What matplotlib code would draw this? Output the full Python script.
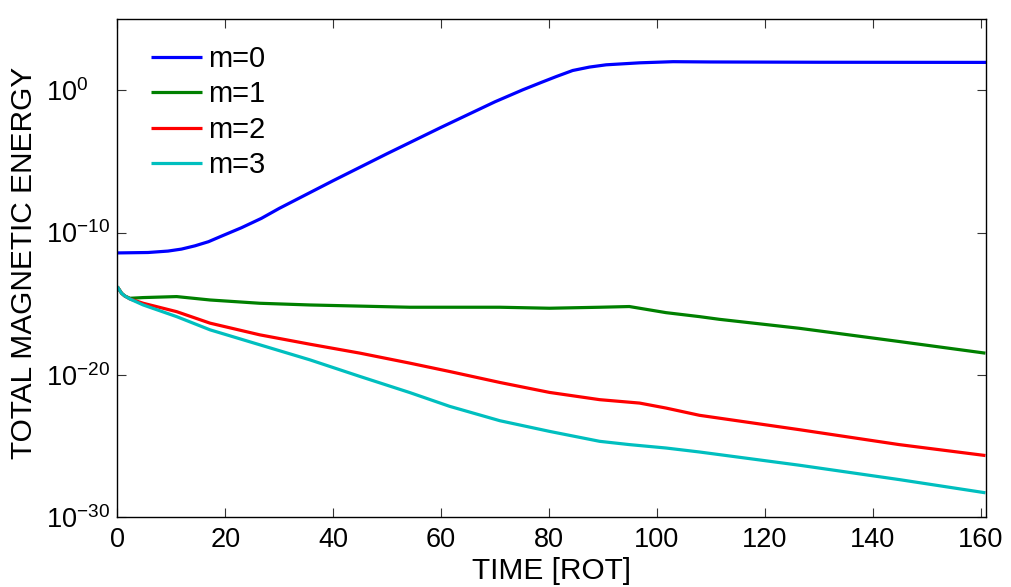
import numpy as np
import matplotlib
matplotlib.use("Agg")
import matplotlib.pyplot as plt

plt.rcParams['font.family'] = ['Liberation Sans', 'DejaVu Sans']
plt.rcParams['mathtext.fontset'] = 'custom'
plt.rcParams['mathtext.rm'] = 'Liberation Sans'
plt.rcParams['mathtext.it'] = 'Liberation Sans'
plt.rcParams['mathtext.bf'] = 'Liberation Sans'

labels = ["m=0", "m=1", "m=2", "m=3"]
colors = ["#0000ff", "#008000", "#ff0000", "#00bfbf"]

# time [rot] and log10(energy)
t0 = [0, 5.7, 9.4, 11.9, 14.4, 16.9, 19.3, 23, 26.7, 30, 40, 50, 60, 70, 75.2, 78.5,
      81.4, 84.4, 87.5, 90.6, 96.8, 103, 110, 130, 161]
log_e0 = [-11.43, -11.4, -11.3, -11.16, -10.93, -10.64, -10.25, -9.66, -9.0, -8.3, -6.35,
          -4.45, -2.6, -0.8, 0.05, 0.55, 0.98, 1.4, 1.64, 1.8, 1.94, 2.02, 2.0, 1.98, 1.97]

t1 = [0, 0.8, 1.4, 2.35, 4.8, 11, 17.2, 26.4, 35.7, 54.2, 70.9, 80.1, 89.4, 94.9, 101.7,
      107.9, 111.6, 126.4, 144.9, 160.9]
log_e1 = [-13.8, -14.27, -14.46, -14.62, -14.57, -14.5, -14.74, -14.97, -15.09, -15.25, -15.25,
          -15.32, -15.25, -15.2, -15.63, -15.91, -16.1, -16.73, -17.66, -18.48]

t2 = [0, 0.8, 1.4, 2.35, 4.8, 11, 17.2, 26.4, 35.7, 45, 54.2, 61.6, 70.9, 80.1, 89.4, 96.8,
      101.7, 107.9, 126.4, 144.9, 160.9]
log_e2 = [-13.8, -14.27, -14.46, -14.67, -14.97, -15.56, -16.37, -17.19, -17.85, -18.48, -19.18,
          -19.77, -20.54, -21.24, -21.75, -21.99, -22.34, -22.85, -23.86, -24.91, -25.68]

t3 = [0, 0.8, 1.4, 2.35, 4.8, 11, 17.2, 26.4, 35.7, 45, 54.2, 61.6, 70.9, 80.1, 89.4, 94.9,
      101.7, 107.9, 126.4, 144.9, 160.9]
log_e3 = [-13.8, -14.27, -14.46, -14.67, -15.09, -15.91, -16.84, -17.89, -18.95, -20.12, -21.25,
          -22.22, -23.23, -23.98, -24.68, -24.91, -25.15, -25.43, -26.36, -27.37, -28.3]

x_ticks = [0, 20, 40, 60, 80, 100, 120, 140, 160]
y_ticks = [1e-30, 1e-20, 1e-10, 1e0]
y_ticklabels = [r"$10^{-30}$", r"$10^{-20}$", r"$10^{-10}$", r"$10^{0}$"]

fig = plt.figure(figsize=(10.12, 5.87), dpi=100)
ax = fig.add_axes([0.1159, 0.1193, 0.8584, 0.8478])

series = [(t0, log_e0), (t1, log_e1), (t2, log_e2), (t3, log_e3)]
for (t, le), lab, c in zip(series, labels, colors):
    ax.semilogy(t, 10.0 ** np.array(le), color=c, lw=2.3, label=lab, solid_capstyle='butt')

ax.set_xlim(0, 161)
ax.set_ylim(1e-30, 1e5)
ax.set_xticks(x_ticks)
ax.set_xticklabels([str(v) for v in x_ticks])
ax.set_yticks(y_ticks)
ax.set_yticklabels(y_ticklabels)
ax.yaxis.set_minor_locator(matplotlib.ticker.NullLocator())

ax.tick_params(axis='both', which='major', direction='in', length=6.7, width=0.8,
               color='#333333', top=True, right=True, labelsize=19.5)
ax.tick_params(axis='x', pad=7)
ax.tick_params(axis='y', pad=51)
for lbl in ax.get_yticklabels():
    lbl.set_horizontalalignment('left')

for sp in ax.spines.values():
    sp.set_linewidth(1.0)
    sp.set_color('black')

ax.set_xlabel("TIME [ROT]", fontsize=21.5, labelpad=3)
ax.set_ylabel("TOTAL MAGNETIC ENERGY", fontsize=21.5)
ax.yaxis.set_label_coords(-0.091, 0.511)

leg = ax.legend(loc='upper left', bbox_to_anchor=(0.0388, 0.948), frameon=False,
                fontsize=21, handlelength=1.75, handletextpad=0.2, labelspacing=0.25,
                borderaxespad=0, borderpad=0)

fig.savefig("out.png", dpi=100)
